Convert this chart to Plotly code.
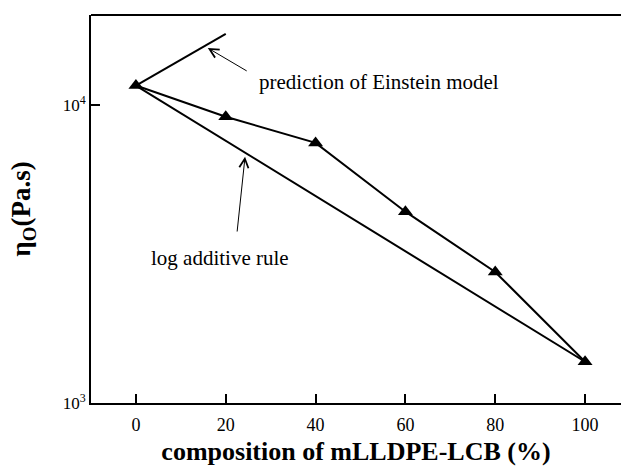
import math
import plotly.graph_objects as go

composition = [0, 20, 40, 60, 80, 100]
viscosity = [11600, 9120, 7450, 4380, 2750, 1375]

additive_x = [0, 100]
additive_y = [11600, 1375]

einstein_x = [0, 20]
einstein_y = [11600, 17300]

x_ticks = [0, 20, 40, 60, 80, 100]
y_ticks = [1000, 10000]
y_ticktext = ["10<sup>3</sup>", "10<sup>4</sup>"]

FONT = "Liberation Serif"
L = math.log10  # annotations on a log axis are placed in log10 units

fig = go.Figure()
fig.add_trace(go.Scatter(x=additive_x, y=additive_y, mode="lines",
                         line=dict(color="black", width=2), showlegend=False))
fig.add_trace(go.Scatter(x=einstein_x, y=einstein_y, mode="lines",
                         line=dict(color="black", width=2), showlegend=False))
fig.add_trace(go.Scatter(x=composition, y=viscosity, mode="lines+markers",
                         line=dict(color="black", width=2),
                         marker=dict(symbol="triangle-up", size=13, color="black"),
                         showlegend=False))

fig.add_annotation(x=16.0, y=L(15500), ax=25.0, ay=L(12900), axref="x", ayref="y",
                   text="", showarrow=True, arrowhead=5, arrowsize=1.8,
                   arrowwidth=1, arrowcolor="black")
fig.add_annotation(x=24.3, y=L(6700), ax=22.5, ay=L(3715), axref="x", ayref="y",
                   text="", showarrow=True, arrowhead=5, arrowsize=1.8,
                   arrowwidth=1, arrowcolor="black")
fig.add_annotation(x=27.0, y=L(11940), text="prediction of Einstein model",
                   showarrow=False, xanchor="left", yanchor="middle",
                   font=dict(family=FONT, size=21, color="black"))
fig.add_annotation(x=18.7, y=L(3070), text="log additive rule",
                   showarrow=False, xanchor="center", yanchor="middle",
                   font=dict(family=FONT, size=21, color="black"))

# top frame line only (the reference box is open on the right)
fig.add_shape(type="line", xref="paper", yref="paper", x0=0, x1=1, y0=1, y1=1,
              line=dict(color="black", width=2))

fig.update_layout(
    width=621, height=466,
    margin=dict(l=91, r=0, t=15, b=63),
    paper_bgcolor="white", plot_bgcolor="white",
    font=dict(family=FONT, color="black"),
    xaxis=dict(range=[-10, 108], tickvals=x_ticks, ticks="inside", ticklen=9,
               tickwidth=2, tickcolor="black", showline=True, linewidth=2,
               linecolor="black", mirror=False, showgrid=False, zeroline=False,
               showspikes=False, ticklabelstandoff=4,
               tickfont=dict(family=FONT, size=18, color="black"),
               title=dict(text="<b>composition of mLLDPE-LCB (%)</b>", standoff=10,
                          font=dict(family=FONT, size=26, color="black"))),
    yaxis=dict(type="log", range=[3, 4.301], tickvals=y_ticks, ticktext=y_ticktext,
               ticks="inside", ticklen=9, tickwidth=2, tickcolor="black",
               showline=True, linewidth=2, linecolor="black", mirror=False,
               showgrid=False, zeroline=False, automargin=False,
               tickfont=dict(family=FONT, size=17, color="black"),
               title=dict(text="<b>η<sub>O</sub>(Pa.s)</b>", standoff=24,
                          font=dict(family=FONT, size=27, color="black"))),
)

fig.write_html("out.html", config={"displayModeBar": False})
